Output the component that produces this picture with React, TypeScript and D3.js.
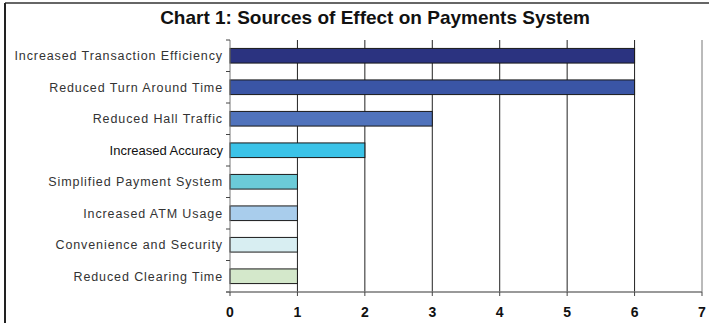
import React from "react";
import * as d3 from "d3";

const categories = [
  "Increased Transaction Efficiency",
  "Reduced Turn Around Time",
  "Reduced Hall Traffic",
  "Increased Accuracy",
  "Simplified Payment System",
  "Increased ATM Usage",
  "Convenience and Security",
  "Reduced Clearing Time",
];
const values = [6, 6, 3, 2, 1, 1, 1, 1];
const colors = ["#2B3380", "#3A55A5", "#5073BC", "#3BC3E8", "#6BCBD8", "#A9CDEC", "#D8EEF2", "#D4E8CB"];
const xTicks = [0, 1, 2, 3, 4, 5, 6, 7];
const title = "Chart 1: Sources of Effect on Payments System";

export default function App() {
  const W = 709, H = 323;
  const left = 230, right = 702, top = 40, bottom = 292;
  const x = d3.scaleLinear().domain([0, 7]).range([left, right]);
  const y = d3.scaleBand<string>().domain(categories).range([top, bottom]).paddingInner(0.535).paddingOuter(0.2675);
  const boundaries = d3.range(categories.length + 1).map((i) => top + (i * (bottom - top)) / categories.length);
  return (
    <svg width={W} height={H} style={{ position: "absolute", left: 0, top: 0, display: "block" }} fontFamily="Arial, 'Liberation Sans', sans-serif">
      <rect x={0} y={0} width={W} height={H} fill="#fff" />
      <line x1={5} y1={3} x2={W} y2={3} stroke="#666" strokeWidth={2} />
      <line x1={5} y1={3} x2={5} y2={H} stroke="#222" strokeWidth={2} />
      <text x={375} y={24} textAnchor="middle" fontWeight="bold" fontSize={19} fill="#111">{title}</text>
      {xTicks.slice(1).map((t) => (
        <line key={"g" + t} x1={x(t)} x2={x(t)} y1={top} y2={bottom} stroke={t === 7 ? "#777" : "#222"} strokeWidth={1} />
      ))}
      {values.map((v, i) => (
        <rect key={i} x={x(0)} y={y(categories[i])!} width={x(v) - x(0)} height={y.bandwidth()} fill={colors[i]} stroke="#1a1a1a" strokeWidth={1} />
      ))}
      <line x1={left} x2={left} y1={top} y2={bottom} stroke="#777" strokeWidth={1} />
      {boundaries.map((b, i) => (
        <line key={"yt" + i} x1={left - 4} x2={left} y1={b} y2={b} stroke="#444" strokeWidth={1} />
      ))}
      <line x1={left - 4} x2={right} y1={bottom} y2={bottom} stroke="#777" strokeWidth={1.5} />
      {xTicks.map((t) => (
        <g key={"xt" + t}>
          <line x1={x(t)} x2={x(t)} y1={bottom} y2={bottom + 4} stroke="#444" strokeWidth={1} />
          <text x={x(t)} y={317} textAnchor="middle" fontSize={14} fontWeight="bold" fill="#111">{t}</text>
        </g>
      ))}
      {categories.map((c, i) => (
        <text
          key={"l" + i}
          x={223}
          y={y(c)! + y.bandwidth() / 2 + 4.5}
          textAnchor="end"
          fontSize={c === "Increased Accuracy" ? 13 : 12.5}
          fill={c === "Increased Accuracy" ? "#111" : "#333"}
          letterSpacing={c === "Increased Accuracy" ? 0 : 0.9}
        >
          {c}
        </text>
      ))}
    </svg>
  );
}
